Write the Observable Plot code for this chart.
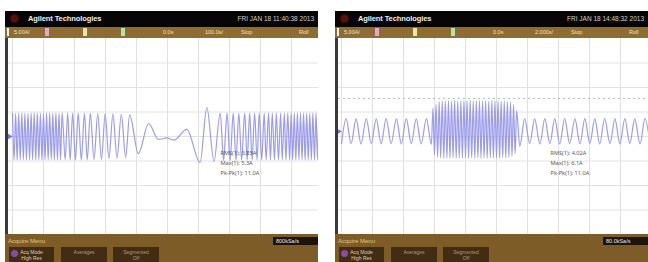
<!DOCTYPE html>
<html><head><meta charset="utf-8">
<script src="https://cdn.jsdelivr.net/npm/d3@7"></script>
<script src="https://cdn.jsdelivr.net/npm/@observablehq/plot@0.6"></script>
<style>
html,body{margin:0;padding:0;background:#fff;}
body{width:648px;height:262px;position:relative;overflow:hidden;font-family:"Liberation Sans",Arial,sans-serif;}
.panel{position:absolute;top:11px;width:313px;height:251px;background:#3a3a3a;overflow:hidden;}
.head{position:absolute;left:0;top:0;width:313px;height:16px;background:#070505;}
.logo{position:absolute;left:6px;top:4px;width:7px;height:7px;border-radius:50%;background:#5a1208;box-shadow:0 0 3px #7a2010;}
.title{position:absolute;left:23px;top:3px;font-size:7.5px;font-weight:bold;color:#f0f0f0;letter-spacing:-0.1px;}
.date{position:absolute;right:4px;top:4px;font-size:6.5px;color:#d0d0d0;}
.bar{position:absolute;left:0;top:16px;width:313px;height:11px;background:#8f6d32;}
.bar span{position:absolute;top:2px;font-size:5.5px;color:#efe0c2;}
.bar i{position:absolute;top:1px;width:4px;height:8px;}
.plotwrap{position:absolute;left:3px;top:27px;width:310px;height:196px;background:#fff;}
.foot{position:absolute;left:0;top:223px;width:313px;height:28px;background:#7d5c28;}
.menu{position:absolute;left:3px;top:4px;font-size:6px;color:#e4c67e;}
.rate{position:absolute;left:268px;top:3px;width:45px;height:8px;background:#1c140a;color:#e8e8e8;font-size:5.5px;line-height:8px;padding-left:3px;box-sizing:border-box;}
.btn{position:absolute;top:13px;height:15px;background:#422d14;color:#b09a74;font-size:5px;line-height:6px;text-align:center;padding-top:2px;box-sizing:border-box;}
.btn.first{color:#ddd0b4;}
.ico{position:absolute;left:2px;top:3px;width:7px;height:7px;border-radius:50%;background:#8a4aa0;}
</style></head><body>
<script>
// ---------- data ----------
const xGrid = [0, 100, 200, 300, 400, 500, 600, 700, 800, 900];   // ms, 100 ms/div
const yGrid = [-3, -2, -1, 0, 1, 2, 3];                              // divisions

// Left capture: trace extremes (time ms, level in divisions)
const leftDenseT1 = [0,5,10,15,20,25,30,35,40,45,50,55,60,65,70,75,80,85,90,95,100,105,110,115,120,125,130,135,140,145,150,155,160];
const leftDenseV1 = [0.95,-0.95,0.94,-0.96,0.95,-0.95,0.96,-0.94,0.95,-0.95,0.94,-0.96,0.95,-0.95,0.96,-0.95,0.95,-0.94,0.95,-0.96,0.94,-0.95,0.95,-0.95,0.96,-0.94,0.95,-0.96,0.95,-0.95,0.94,-0.95,0.95];
const leftChirpT = [170,178,186,194,203,212,222,232,241,251,263,275,287,299,311,324,337,351,365,378,406,439,471,497,520,562,605,627,650];
const leftChirpV = [-0.95,0.95,-0.96,0.95,-0.96,0.95,-0.96,0.94,-0.95,0.94,-0.94,0.93,-0.93,0.92,-0.9,0.92,-0.88,0.9,-0.86,0.88,-0.7,0.53,-0.12,-0.06,-0.15,0.29,-1.06,1.18,-1.02];
const leftRiseT = [670,681,692,702,712,721,730,739,749,757,765,773,781,789,796,804,812,818,826,832,838,845,851,858,865,870,877,882,888];
const leftRiseV = [0.96,-0.98,0.95,-0.98,0.95,-0.97,0.95,-0.96,0.95,-0.96,0.95,-0.96,0.95,-0.95,0.95,-0.95,0.95,-0.95,0.95,-0.95,0.95,-0.95,0.95,-0.95,0.95,-0.95,0.95,-0.95,0.95];
const leftDenseT2 = [894,899,904,909,914,919,924,929,934,939,944,949,954,959,964,969,974,979,984,989,994,999];
const leftDenseV2 = [-0.95,0.95,-0.96,0.94,-0.95,0.95,-0.94,0.96,-0.95,0.95,-0.96,0.95,-0.95,0.94,-0.95,0.96,-0.95,0.95,-0.94,0.95,-0.95,0.95];
const leftOffset = 0;

// Right capture
const rightPreT = [0,15,31,47,63,80,96,112,128,144,160,177,193,209,225,241,257,274,290];
const rightPreV = [-0.49,0.53,-0.49,0.52,-0.5,0.53,-0.49,0.52,-0.5,0.53,-0.49,0.52,-0.5,0.53,-0.49,0.52,-0.5,0.53,-0.52];
const rightBurstT = [295,300,305,310,315,320,325,330,335,340,345,350,355,360,365,370,375,380,385,390,395,400,405,410,415,420,425,430,435,440,445,450,455,460,465,470,475,480,485,490,495,500,505,510,515,520,525,530,535,540,545,550,555,560,565];
const rightBurstV = [0.95,-0.95,1.12,-1.04,1.22,-1.07,1.26,-1.08,1.24,-1.07,1.27,-1.08,1.25,-1.06,1.28,-1.08,1.24,-1.07,1.26,-1.08,1.27,-1.06,1.25,-1.08,1.28,-1.07,1.24,-1.08,1.26,-1.06,1.27,-1.08,1.25,-1.07,1.26,-1.08,1.24,-1.06,1.27,-1.08,1.25,-1.07,1.26,-1.08,1.24,-1.06,1.25,-1.07,1.23,-1.05,1.2,-1.0,1.1,-0.9,0.85];
const rightPostT = [575,591,607,623,640,656,672,688,704,720,736,753,769,785,801,817,833,849,866,882,898,914,930,946,963,979,995];
const rightPostV = [-0.6,0.53,-0.49,0.52,-0.5,0.53,-0.49,0.52,-0.5,0.53,-0.49,0.52,-0.5,0.53,-0.49,0.52,-0.5,0.53,-0.49,0.52,-0.5,0.53,-0.49,0.52,-0.5,0.53,-0.49];
const rightOffset = 0.2;
const rightCursors = [1.35];

// Texts
const brand = "Agilent Technologies";
const dates = ["FRI JAN 18 11:40:38 2013", "FRI JAN 18 14:48:32 2013"];
const chScale = "5.00A/";
const timeScales = ["100.0s/", "2.000s/"];
const rates = ["800kSa/s", "80.0kSa/s"];
const leftMeas = ["RMS(1): 3.85A", "Max(1): 5.3A", "Pk-Pk(1): 11.0A"];
const rightMeas = ["RMS(1): 4.02A", "Max(1): 6.1A", "Pk-Pk(1): 11.0A"];
const buttons = [["Acq Mode", "High Res"], ["Averages", ""], ["Segmented", "Off"]];

function zip(T, V) { return T.map((t, i) => ({t, v: V[i]})); }

function makePanel({left, date, timeScale, rate, trace, offset, meas, range, cursors}) {
  const p = document.createElement("div");
  p.className = "panel"; p.style.left = left + "px";
  p.innerHTML = `
    <div class="head"><div class="logo"></div><div class="title">${brand}</div><div class="date">${date}</div></div>
    <div class="bar">
      <i style="left:2px;background:#f4f4f4;width:2px"></i>
      <span style="left:9px">${chScale}</span>
      <i style="left:40px;background:#e8a6cc"></i>
      <i style="left:78px;background:#ece6a6"></i>
      <i style="left:116px;background:#b2e6a8"></i>
      <span style="left:158px">0.0s</span>
      <span style="left:200px">${timeScale}</span>
      <span style="left:236px">Stop</span>
      <span style="left:294px">Roll</span>
    </div>
    <div class="plotwrap"></div>
    <div class="foot"><div class="menu">Acquire Menu</div><div class="rate">${rate}</div></div>`;
  const foot = p.querySelector(".foot");
  const bx = [4, 56, 108];
  buttons.forEach((b, i) => {
    const d = document.createElement("div");
    d.className = "btn" + (i === 0 ? " first" : "");
    d.style.left = bx[i] + "px"; d.style.width = (i === 0 ? 45 : 46) + "px";
    d.innerHTML = (i === 0 ? '<div class="ico"></div>' : "") + b[0] + "<br>" + b[1];
    foot.appendChild(d);
  });
  const chart = Plot.plot({
    width: 310, height: 196,
    margin: 0,
    x: {domain: [0, 1000], range: range, axis: null},
    y: {domain: [-4, 4], range: [196, 0], axis: null},
    style: {background: "#fff", overflow: "hidden"},
    marks: [
      Plot.ruleX(xGrid, {stroke: "#e0e0e0", strokeWidth: 1}),
      Plot.ruleY(yGrid, {stroke: "#e2e2e2", strokeWidth: 1}),
      Plot.ruleY(cursors, {y: d => d + offset, stroke: "#a8a8a8", strokeDasharray: "2,3", strokeWidth: 0.8}),
      Plot.line(trace, {x: "t", y: d => d.v + offset, curve: "monotone-x", stroke: "#8e8ee8", strokeWidth: 1.2, strokeOpacity: 0.88}),
      Plot.dot([offset], {x: () => 0, y: d => d, symbol: "triangle", rotate: 90, r: 2.2, fill: "#7676da", stroke: null, dx: -3}),
      Plot.text([meas.join("\n")], {frameAnchor: "top-left", dx: 212, dy: 110, text: d => d, textAnchor: "start", fontSize: 5.6, lineHeight: 1.75, fill: "#555"})
    ]
  });
  p.querySelector(".plotwrap").appendChild(chart);
  document.body.appendChild(p);
}

makePanel({
  left: 5, date: dates[0], timeScale: timeScales[0], rate: rates[0],
  trace: [...zip(leftDenseT1, leftDenseV1), ...zip(leftChirpT, leftChirpV), ...zip(leftRiseT, leftRiseV), ...zip(leftDenseT2, leftDenseV2)],
  offset: leftOffset, meas: leftMeas, range: [4, 314], cursors: []
});
makePanel({
  left: 335, date: dates[1], timeScale: timeScales[1], rate: rates[1],
  trace: [...zip(rightPreT, rightPreV), ...zip(rightBurstT, rightBurstV), ...zip(rightPostT, rightPostV)],
  offset: rightOffset, meas: rightMeas, range: [3, 313], cursors: rightCursors
});
</script>
</body></html>
